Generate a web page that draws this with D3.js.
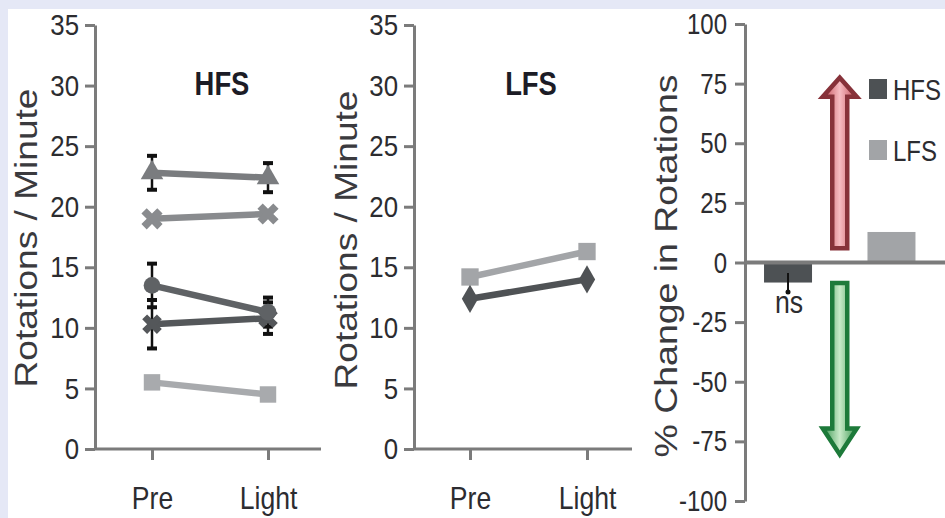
<!DOCTYPE html>
<html><head><meta charset="utf-8">
<script src="https://cdn.jsdelivr.net/npm/d3@7"></script>
<style>
html,body{margin:0;padding:0;background:#fff;}
svg{display:block;}
</style></head><body>
<svg id="chart" width="945" height="518"></svg>
<script>
// ---- data ----
const phases = ["Pre", "Light"];
const rotTicks = [0, 5, 10, 15, 20, 25, 30, 35];
const pctTicks = [-100, -75, -50, -25, 0, 25, 50, 75, 100];

// HFS animals: rotations / minute at Pre and Light, with SEM
const hfsA = [22.8, 22.4], hfsAErr = [1.4, 1.2];
const hfsB = [19.0, 19.4];
const hfsC = [13.5, 11.3], hfsCErr = [1.8, 1.2];
const hfsD = [10.3, 10.8], hfsDErr = [2.0, 1.3];
const hfsE = [5.5, 4.5];

// LFS animals
const lfsLightGrey = [14.2, 16.3];
const lfsDarkGrey = [12.4, 14.0];

// % change in rotations, per group
const groups = ["HFS", "LFS"];
const pctChange = [-8.4, 12.8];
const pctErr = [4.0, 0];
const pctNote = ["ns", ""];
// direction arrows, [start, tip] in % change
const upArrow = [6, 77.5];
const downArrow = [-8.6, -80.5];

// ---- drawing ----
const svg = d3.select("#chart");
const sans = "'Liberation Sans',Arial,Helvetica,sans-serif";
const axisCol = "#7b7b7b";
const textCol = "#2c2c30";

// condensed lettering: squeeze each text node to a fraction of its natural width
function condense(sel, factor) {
  sel.each(function () {
    const w = this.getComputedTextLength();
    if (w > 0) d3.select(this).attr("textLength", w * factor).attr("lengthAdjust", "spacingAndGlyphs");
  });
}

// page frame
svg.append("rect").attr("width", 945).attr("height", 518).attr("fill", "#e5e8f6");
svg.append("rect").attr("x", 8).attr("y", 9).attr("width", 937).attr("height", 509).attr("fill", "#fff");

function styleAxis(g, size, factor) {
  g.selectAll(".domain").attr("stroke", axisCol).attr("stroke-width", 3);
  g.selectAll(".tick line").attr("stroke", axisCol).attr("stroke-width", 3);
  const t = g.selectAll(".tick text").attr("fill", textCol).attr("font-family", sans).attr("font-size", size);
  condense(t, factor);
}

function linePanel(cfg) {
  const g = svg.append("g");
  const y = d3.scaleLinear().domain([0, 35]).range([449, 25]);
  const x = d3.scalePoint().domain(phases).range([cfg.pre, cfg.light]);

  // y axis
  const ya = g.append("g").attr("transform", `translate(${cfg.left},0)`)
    .call(d3.axisLeft(y).tickValues(rotTicks).tickFormat(d => String(d))
      .tickSize(10).tickPadding(6).tickSizeOuter(0));
  styleAxis(ya, 30, 0.86);

  // x axis baseline + ticks
  g.append("line").attr("x1", cfg.left).attr("x2", cfg.right)
    .attr("y1", y(0)).attr("y2", y(0)).attr("stroke", axisCol).attr("stroke-width", 3);
  const xa = g.append("g").attr("transform", `translate(0,${y(0)})`)
    .call(d3.axisBottom(x).tickSize(11).tickPadding(26));
  xa.select(".domain").remove();
  styleAxis(xa, 32, 0.83);

  // titles
  const title = g.append("text").attr("x", cfg.titleX).attr("y", 95).attr("text-anchor", "middle")
    .attr("font-family", sans).attr("font-weight", "bold").attr("font-size", 33)
    .attr("fill", "#1c1c26").text(cfg.title);
  condense(title, 0.83);
  g.append("text").attr("transform", `translate(${cfg.labelX},${cfg.labelY}) rotate(-90)`)
    .attr("text-anchor", "middle").attr("dominant-baseline", "central")
    .attr("font-family", sans).attr("font-size", 31)
    .attr("textLength", 299).attr("lengthAdjust", "spacingAndGlyphs")
    .attr("fill", "#3a3a3e").text("Rotations / Minute");

  const line = d3.line().x((d, i) => x(phases[i])).y(d => y(d));

  // error bars underneath the lines
  cfg.series.filter(s => s.err).forEach(s => {
    s.values.forEach((v, i) => {
      const cx = x(phases[i]);
      const e = s.err[i];
      g.append("line").attr("x1", cx).attr("x2", cx).attr("y1", y(v + e)).attr("y2", y(v - e))
        .attr("stroke", "#111").attr("stroke-width", 2.5);
      [v + e, v - e].forEach(c => g.append("line")
        .attr("x1", cx - 5).attr("x2", cx + 5).attr("y1", y(c)).attr("y2", y(c))
        .attr("stroke", "#111").attr("stroke-width", 4));
    });
  });

  cfg.series.forEach(s => {
    g.append("path").datum(s.values).attr("d", line).attr("fill", "none")
      .attr("stroke", s.color).attr("stroke-width", 6.5);
    g.selectAll(null).data(s.values).join("path")
      .attr("transform", (d, i) => `translate(${x(phases[i])},${y(d)}) rotate(${s.rot || 0})`)
      .attr("d", d3.symbol().type(s.symbol).size(s.size))
      .attr("fill", s.color);
  });
}

linePanel({
  left: 95, right: 321, pre: 152, light: 268, title: "HFS", titleX: 222,
  labelX: 26, labelY: 238,
  series: [
    { values: hfsE, color: "#a8aaad", symbol: d3.symbolSquare, size: 270 },
    { values: hfsD, err: hfsDErr, color: "#54575a", symbol: d3.symbolCross, size: 240, rot: 45 },
    { values: hfsC, err: hfsCErr, color: "#5f6265", symbol: d3.symbolCircle, size: 220 },
    { values: hfsB, color: "#898b8e", symbol: d3.symbolCross, size: 280, rot: 45 },
    { values: hfsA, err: hfsAErr, color: "#7a7c7f", symbol: d3.symbolTriangle, size: 220 }
  ]
});

linePanel({
  left: 414, right: 632, pre: 470, light: 587, title: "LFS", titleX: 531,
  labelX: 346, labelY: 240,
  series: [
    { values: lfsLightGrey, color: "#a3a5a8", symbol: d3.symbolSquare, size: 300 },
    { values: lfsDarkGrey, color: "#4f5255", symbol: d3.symbolDiamond, size: 230 }
  ]
});

// ---- % change panel ----
const g3 = svg.append("g");
const yp = d3.scaleLinear().domain([-100, 100]).range([501, 24]);
const xb = d3.scaleBand().domain(groups).range([745, 934.5]).paddingInner(0.536).paddingOuter(0.184);
const barCol = { HFS: "#4d5154", LFS: "#a2a4a7" };

const pa = g3.append("g").attr("transform", "translate(745,0)")
  .call(d3.axisLeft(yp).tickValues(pctTicks).tickFormat(d => String(d))
    .tickSize(10).tickPadding(8).tickSizeOuter(0));
styleAxis(pa, 30, 0.8);

g3.append("text").attr("transform", "translate(666,266) rotate(-90)")
  .attr("text-anchor", "middle").attr("dominant-baseline", "central")
  .attr("font-family", sans).attr("font-size", 31)
  .attr("textLength", 383).attr("lengthAdjust", "spacingAndGlyphs")
  .attr("fill", "#3a3a3e").text("% Change in Rotations");

// bars
g3.selectAll(".bar").data(groups).join("rect").attr("class", "bar")
  .attr("x", d => xb(d)).attr("width", xb.bandwidth())
  .attr("y", (d, i) => yp(Math.max(0, pctChange[i])))
  .attr("height", (d, i) => Math.abs(yp(pctChange[i]) - yp(0)))
  .attr("fill", d => barCol[d]);

// error bars + significance note
groups.forEach((d, i) => {
  if (!pctErr[i]) return;
  const cx = xb(d) + xb.bandwidth() / 2;
  g3.append("line").attr("x1", cx).attr("x2", cx)
    .attr("y1", yp(pctChange[i] + pctErr[i])).attr("y2", yp(pctChange[i] - pctErr[i]))
    .attr("stroke", "#111").attr("stroke-width", 2);
  g3.append("circle").attr("cx", cx).attr("cy", yp(pctChange[i] - pctErr[i])).attr("r", 2.5).attr("fill", "#111");
  const note = g3.append("text").attr("x", cx + 1).attr("y", 313).attr("text-anchor", "middle")
    .attr("font-family", sans).attr("font-size", 31).attr("fill", textCol).text(pctNote[i]);
  condense(note, 0.86);
});

// zero line
g3.append("line").attr("x1", 745).attr("x2", 945).attr("y1", yp(0)).attr("y2", yp(0))
  .attr("stroke", axisCol).attr("stroke-width", 4);

// arrows
const defs = svg.append("defs");
function grad(id, edge, mid) {
  const lg = defs.append("linearGradient").attr("id", id).attr("x1", 0).attr("x2", 1).attr("y1", 0).attr("y2", 0);
  lg.append("stop").attr("offset", 0).attr("stop-color", edge);
  lg.append("stop").attr("offset", 0.5).attr("stop-color", mid);
  lg.append("stop").attr("offset", 1).attr("stop-color", edge);
}
grad("gRed", "#c24c56", "#f6bcc2");
grad("gGreen", "#3a9750", "#c8eac8");

const arrowX = (xb("HFS") + xb.bandwidth() + xb("LFS")) / 2;
function arrow(span, headLen, fillId, stroke) {
  const y0 = yp(span[0]), y1 = yp(span[1]);
  const dir = y1 < y0 ? 1 : -1;
  const hb = y1 + dir * headLen;
  const sw = 7.5, hw = 17;
  const pts = [
    [arrowX - sw, y0], [arrowX - sw, hb], [arrowX - hw, hb], [arrowX, y1],
    [arrowX + hw, hb], [arrowX + sw, hb], [arrowX + sw, y0]
  ];
  g3.append("path").attr("d", d3.line()(pts) + "Z")
    .attr("fill", `url(#${fillId})`).attr("stroke", stroke).attr("stroke-width", 4.5)
    .attr("stroke-linejoin", "miter");
}
arrow(upArrow, 19, "gRed", "#87323a");
arrow(downArrow, 26, "gGreen", "#1d7a3a");

// legend (lettering narrowed with a horizontal scale so it fits the right edge)
groups.forEach((d, i) => {
  const ly = 79 + i * 61;
  g3.append("rect").attr("x", 869).attr("y", ly).attr("width", 18).attr("height", 20).attr("fill", barCol[d]);
  g3.append("text").attr("transform", `translate(893,${ly + 21}) scale(0.8,1)`)
    .attr("font-family", sans).attr("font-size", 30).attr("fill", textCol).text(d);
});
</script>
</body></html>
